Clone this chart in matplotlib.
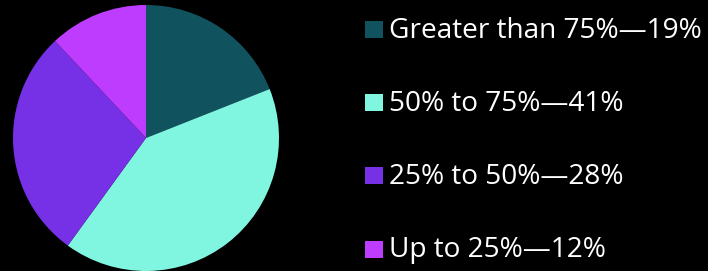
import matplotlib
matplotlib.use("Agg")
import matplotlib.pyplot as plt
from matplotlib.patches import Rectangle

labels = ["Greater than 75%", "50% to 75%", "25% to 50%", "Up to 25%"]
shares = [19, 41, 28, 12]
colors = ["#11525F", "#80F5E0", "#7630E6", "#BE3CFD"]

W, H = 708, 271
fig = plt.figure(figsize=(W / 100, H / 100), dpi=100, facecolor="black")

# pie axes: centre (146, 138), radius 133 px
cx, cy, r = 146, 138, 133
ax = fig.add_axes([(cx - r) / W, 1 - (cy + r) / H, 2 * r / W, 2 * r / H])
ax.set_facecolor("black")
ax.pie(shares, colors=colors, startangle=90, counterclock=False,
       wedgeprops=dict(linewidth=0), radius=1.0)
ax.set_xlim(-1, 1)
ax.set_ylim(-1, 1)
ax.set_aspect("equal")
ax.axis("off")

# legend rows
row_y = [29.5, 102.6, 175.8, 249]
for lab, val, col, y in zip(labels, shares, colors, row_y):
    fig.patches.append(Rectangle(((365) / W, 1 - (y + 8.5) / H), 17.5 / W, 17 / H,
                                 transform=fig.transFigure, facecolor=col,
                                 edgecolor="none"))
    fig.text(389 / W, 1 - (y + 1) / H, f"{lab}\u2014{val}%", color="white",
             fontsize=20.2, family="Open Sans", va="center", ha="left")

fig.savefig("out.png", dpi=100, facecolor="black")
